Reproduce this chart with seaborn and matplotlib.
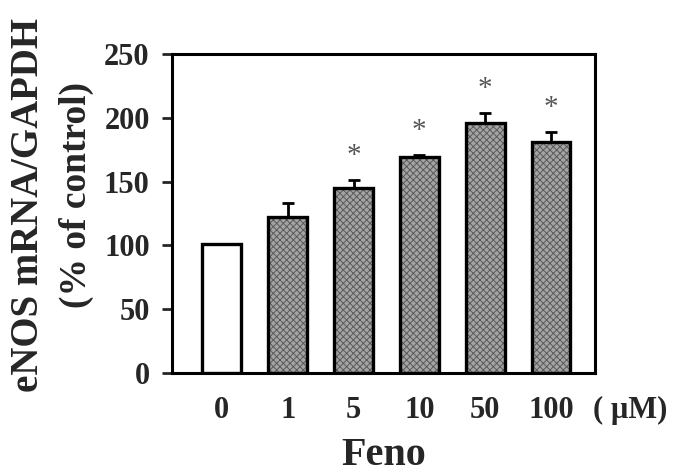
import pandas as pd
import matplotlib
matplotlib.use('Agg')
import matplotlib.pyplot as plt
import seaborn as sns

doses = ['0', '1', '5', '10', '50', '100']
means = [101, 122, 145, 169, 196, 181]
errs = [0, 11, 6, 2, 8, 8]
signif = [False, False, True, True, True, True]

df = pd.DataFrame({'dose': doses, 'mean': means})

sns.set_style('white')
plt.rcParams['font.family'] = ['Liberation Serif', 'DejaVu Serif']
plt.rcParams['font.weight'] = 'bold'
plt.rcParams['hatch.linewidth'] = 0.7

fig = plt.figure(figsize=(6.74, 4.75), dpi=100)
ax = fig.add_axes([0.255, 0.215, 0.628, 0.671])

# filled bars with a fine grey hatch
sns.barplot(data=df, x='dose', y='mean', order=doses, width=0.59,
            color='white', edgecolor='#5a5a5a', linewidth=0, ax=ax, zorder=2)
for i, p in enumerate(ax.patches):
    if i > 0:
        p.set_facecolor('#a4a4a4')
        p.set_hatch('xxxxx')

# black outlines on top
ax.bar(range(len(doses)), means, width=0.59, fill=False, edgecolor='black',
       linewidth=2.4, zorder=3)

ax.errorbar(range(len(doses)), means, yerr=[[0] * len(errs), errs], fmt='none',
            ecolor='black', elinewidth=2, capsize=4, capthick=2, zorder=1)

for i, s in enumerate(signif):
    if s:
        ax.text(i, means[i] + errs[i] + 19, '*', ha='center', va='center',
                fontsize=21, color='#555555', fontweight='normal')

ax.set_ylim(0, 250)
ax.set_xlim(-0.76, 5.67)
ax.set_yticks([0, 50, 100, 150, 200, 250])
ax.tick_params(axis='y', direction='out', length=7, width=2, labelsize=22, pad=9, left=True)
ax.tick_params(axis='x', length=0, labelsize=22, pad=17)
for sp in ax.spines.values():
    sp.set_linewidth(2.2)
    sp.set_color('black')

ax.set_xlabel('Feno', fontsize=29, fontweight='bold', labelpad=8)
ax.set_ylabel('')
fig.text(0.043, 0.568, 'eNOS mRNA/GAPDH', rotation=90, ha='center', va='center',
         fontsize=28, fontweight='bold')
fig.text(0.114, 0.59, '(% of control)', rotation=90, ha='center', va='center',
         fontsize=27, fontweight='bold')
ax.text(5.63, -0.118, '( \u00b5M)', transform=ax.get_xaxis_transform(),
        ha='left', va='center', fontsize=22, fontweight='bold')

fig.savefig('out.png', dpi=100)
